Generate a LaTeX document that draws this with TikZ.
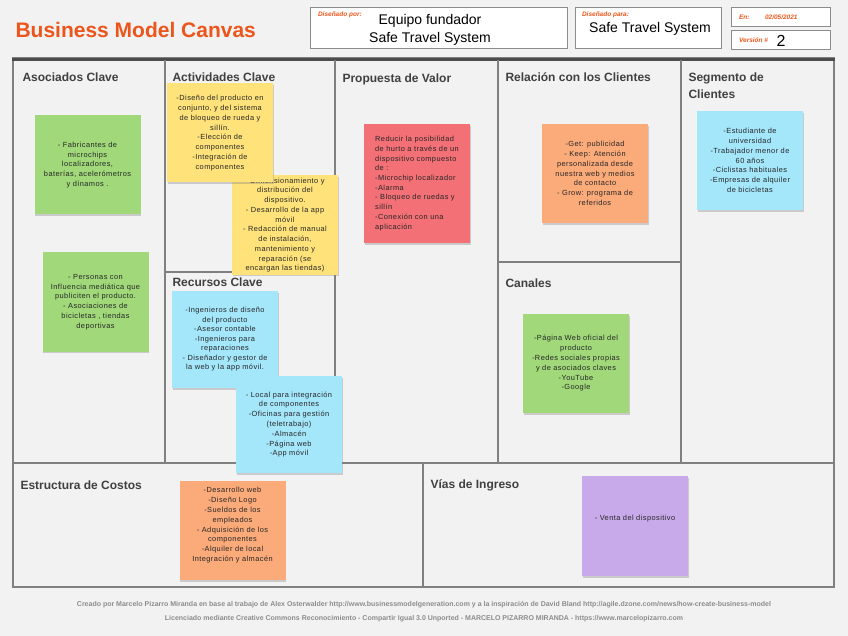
\documentclass[tikz,border=0pt]{standalone}
\usepackage{fontspec}
\setmainfont{Liberation Sans}
\newfontfamily\notafont[LetterSpace=6]{Liberation Sans}
\usetikzlibrary{shadows,positioning}
\definecolor{bmcnaranja}{RGB}{236,86,28}
\definecolor{fondo}{RGB}{242,242,242}
\definecolor{nverde}{RGB}{160,216,122}
\definecolor{namarillo}{RGB}{255,226,122}
\definecolor{nrojo}{RGB}{243,112,118}
\definecolor{nazul}{RGB}{164,230,250}
\definecolor{nnaranja}{RGB}{251,170,122}
\definecolor{nmorado}{RGB}{200,170,234}
\tikzset{
  nota/.style={minimum width=106pt,minimum height=99pt,inner sep=2pt,align=center,
               font=\notafont\fontsize{7.4}{9.8}\selectfont,text=black!85,
               drop shadow={shadow xshift=0.8pt,shadow yshift=-1.8pt,opacity=0.35}},
  bloque/.style={anchor=west,font=\bfseries\fontsize{12}{17}\selectfont,text=black!75},
  caja/.style={draw=black!45,line width=1pt,fill=white},
  rotulo/.style={anchor=west,font=\bfseries\itshape\fontsize{6.5}{7}\selectfont,text=bmcnaranja},
  linea/.style={draw=black!50,line width=1.6pt},
  pie/.style={font=\bfseries\fontsize{7}{8}\selectfont,text=black!45},
}
\begin{document}
\begin{tikzpicture}[x=1pt,y=-1pt]
  \fill[fondo] (0,0) rectangle (848,636);
  \useasboundingbox (0,0) rectangle (848,636);
  % cabecera
  \node[anchor=west,font=\bfseries\fontsize{21}{23}\selectfont,text=bmcnaranja] (titulo) at (12,30) {Business Model Canvas};
  \node[caja,minimum width=257pt,minimum height=41pt] (autor) at (438.5,28.5) {};
  \node[caja,minimum width=146pt,minimum height=41pt] (cliente) at (648,28.5) {};
  \node[caja,minimum width=99pt,minimum height=19pt] (fecha) at (780.5,17.5) {};
  \node[caja,minimum width=99pt,minimum height=19pt] (version) at (780.5,40) {};
  \node[rotulo] at ([xshift=5pt,yshift=-7pt]autor.north west) {Diseñado por:};
  \node[rotulo] at ([xshift=4pt,yshift=-7pt]cliente.north west) {Diseñado para:};
  \node[rotulo] at ([xshift=5pt]fecha.west) {En:};
  \node[rotulo] at ([xshift=31pt]fecha.west) {02/05/2021};
  \node[rotulo] at ([xshift=5pt]version.west) {Versión \#};
  \node[align=center,font=\fontsize{14}{17.5}\selectfont] (equipo) at (430,30) {Equipo fundador\\Safe Travel System};
  \node[font=\fontsize{14}{16}\selectfont] (sistema) at (650,29) {Safe Travel System};
  \node[font=\fontsize{16}{18}\selectfont] (num) at (781,40.5) {2};
  % lienzo
  \draw[linea] (13,58) rectangle (834,587);
  \draw[black!70,line width=3.5pt] (12,59.5) -- (835,59.5);
  \foreach \x in {165,335,498,681} \draw[linea] (\x,60) -- (\x,463);
  \draw[linea] (13,463) -- (834,463);
  \draw[linea] (423,463) -- (423,587);
  \draw[linea] (165,272) -- (335,272);
  \draw[linea] (498,262) -- (681,262);
  \node[bloque] (asociados) at (19,77) {Asociados Clave};
  \node[bloque] (actividades) at (169,77) {Actividades Clave};
  \node[bloque] (propuesta) at (339,79) {Propuesta de Valor};
  \node[bloque] (relacion) at (502,77) {Relación con los Clientes};
  \node[bloque,anchor=north west,align=left] (segmento) at (685,69) {Segmento de\\Clientes};
  \node[bloque] (recursos) at (169,282) {Recursos Clave};
  \node[bloque] (canales) at (502,283) {Canales};
  \node[bloque] (costos) at (17,485) {Estructura de Costos};
  \node[bloque] (ingresos) at (427,485) {Vías de Ingreso};
  % notas
  \node[nota,fill=nverde] (fabricantes) at (87.5,165) {- Fabricantes de\\microchips\\localizadores,\\baterías, acelerómetros\\y dínamos .};
  \node[nota,fill=nverde] (influencers) at (95.5,302) {- Personas con\\Influencia mediática que\\publiciten el producto.\\- Asociaciones de\\bicicletas , tiendas\\deportivas};
  \node[nota,fill=namarillo,inner ysep=1pt,font=\notafont\fontsize{7.4}{9.75}\selectfont] (dimension) at (285,225) {- Dimensionamiento y\\distribución del\\dispositivo.\\- Desarrollo de la app\\móvil\\- Redacción de manual\\de instalación,\\mantenimiento y\\reparación (se\\encargan las tiendas)};
  \node[nota,fill=namarillo] (diseno) at (220,133) {-Diseño del producto en\\conjunto, y del sistema\\de bloqueo de rueda y\\sillín.\\-Elección de\\componentes\\-Integración de\\componentes};
  \node[nota,fill=nrojo,minimum height=119pt,align=left,inner xsep=8pt,font=\notafont\fontsize{7.4}{9.7}\selectfont] (valor) at (417,183.5) {Reducir la posibilidad\\de hurto a través de un\\dispositivo compuesto\\de :\\-Microchip localizador\\-Alarma\\- Bloqueo de ruedas y\\sillín\\-Conexión con una\\aplicación};
  \node[nota,fill=nazul,minimum height=97pt,font=\notafont\fontsize{7.4}{9.5}\selectfont] (personal) at (225,339.5) {-Ingenieros de diseño\\del producto\\-Asesor contable\\-Ingenieros para\\reparaciones\\- Diseñador y gestor de\\la web y la app móvil.};
  \node[nota,fill=nazul,minimum height=97pt] (local) at (289,424.5) {- Local para integración\\de componentes\\-Oficinas para gestión\\(teletrabajo)\\-Almacén\\-Página web\\-App móvil};
  \node[nota,fill=nnaranja] (getkeep) at (595,173.5) {-Get: publicidad\\- Keep: Atención\\personalizada desde\\nuestra web y medios\\de contacto\\- Grow: programa de\\referidos};
  \node[nota,fill=nazul] (clientes) at (750,160.5) {-Estudiante de\\universidad\\-Trabajador menor de\\60 años\\-Ciclistas habituales\\-Empresas de alquiler\\de bicicletas};
  \node[nota,fill=nverde] (web) at (576,363.5) {-Página Web oficial del\\producto\\-Redes sociales propias\\y de asociados claves\\-YouTube\\-Google};
  \node[nota,fill=nnaranja] (gastos) at (232.5,530.5) {-Desarrollo web\\-Diseño Logo\\-Sueldos de los\\empleados\\- Adquisición de los\\componentes\\-Alquiler de local\\Integración y almacén\\[2pt]};
  \node[nota,fill=nmorado,minimum height=100pt] (venta) at (635,526) {- Venta del dispositivo\\[6pt]};
  % pie
  \node[pie] (creditos) at (424,605) {Creado por Marcelo Pizarro Miranda en base al trabajo de Alex Osterwalder http://www.businessmodelgeneration.com y a la inspiración de David Bland http://agile.dzone.com/news/how-create-business-model};
  \node[pie] (licencia) at (424,619) {Licenciado mediante Creative Commons Reconocimiento - Compartir Igual 3.0 Unported - MARCELO PIZARRO MIRANDA - https://www.marcelopizarro.com};
\end{tikzpicture}
\end{document}
